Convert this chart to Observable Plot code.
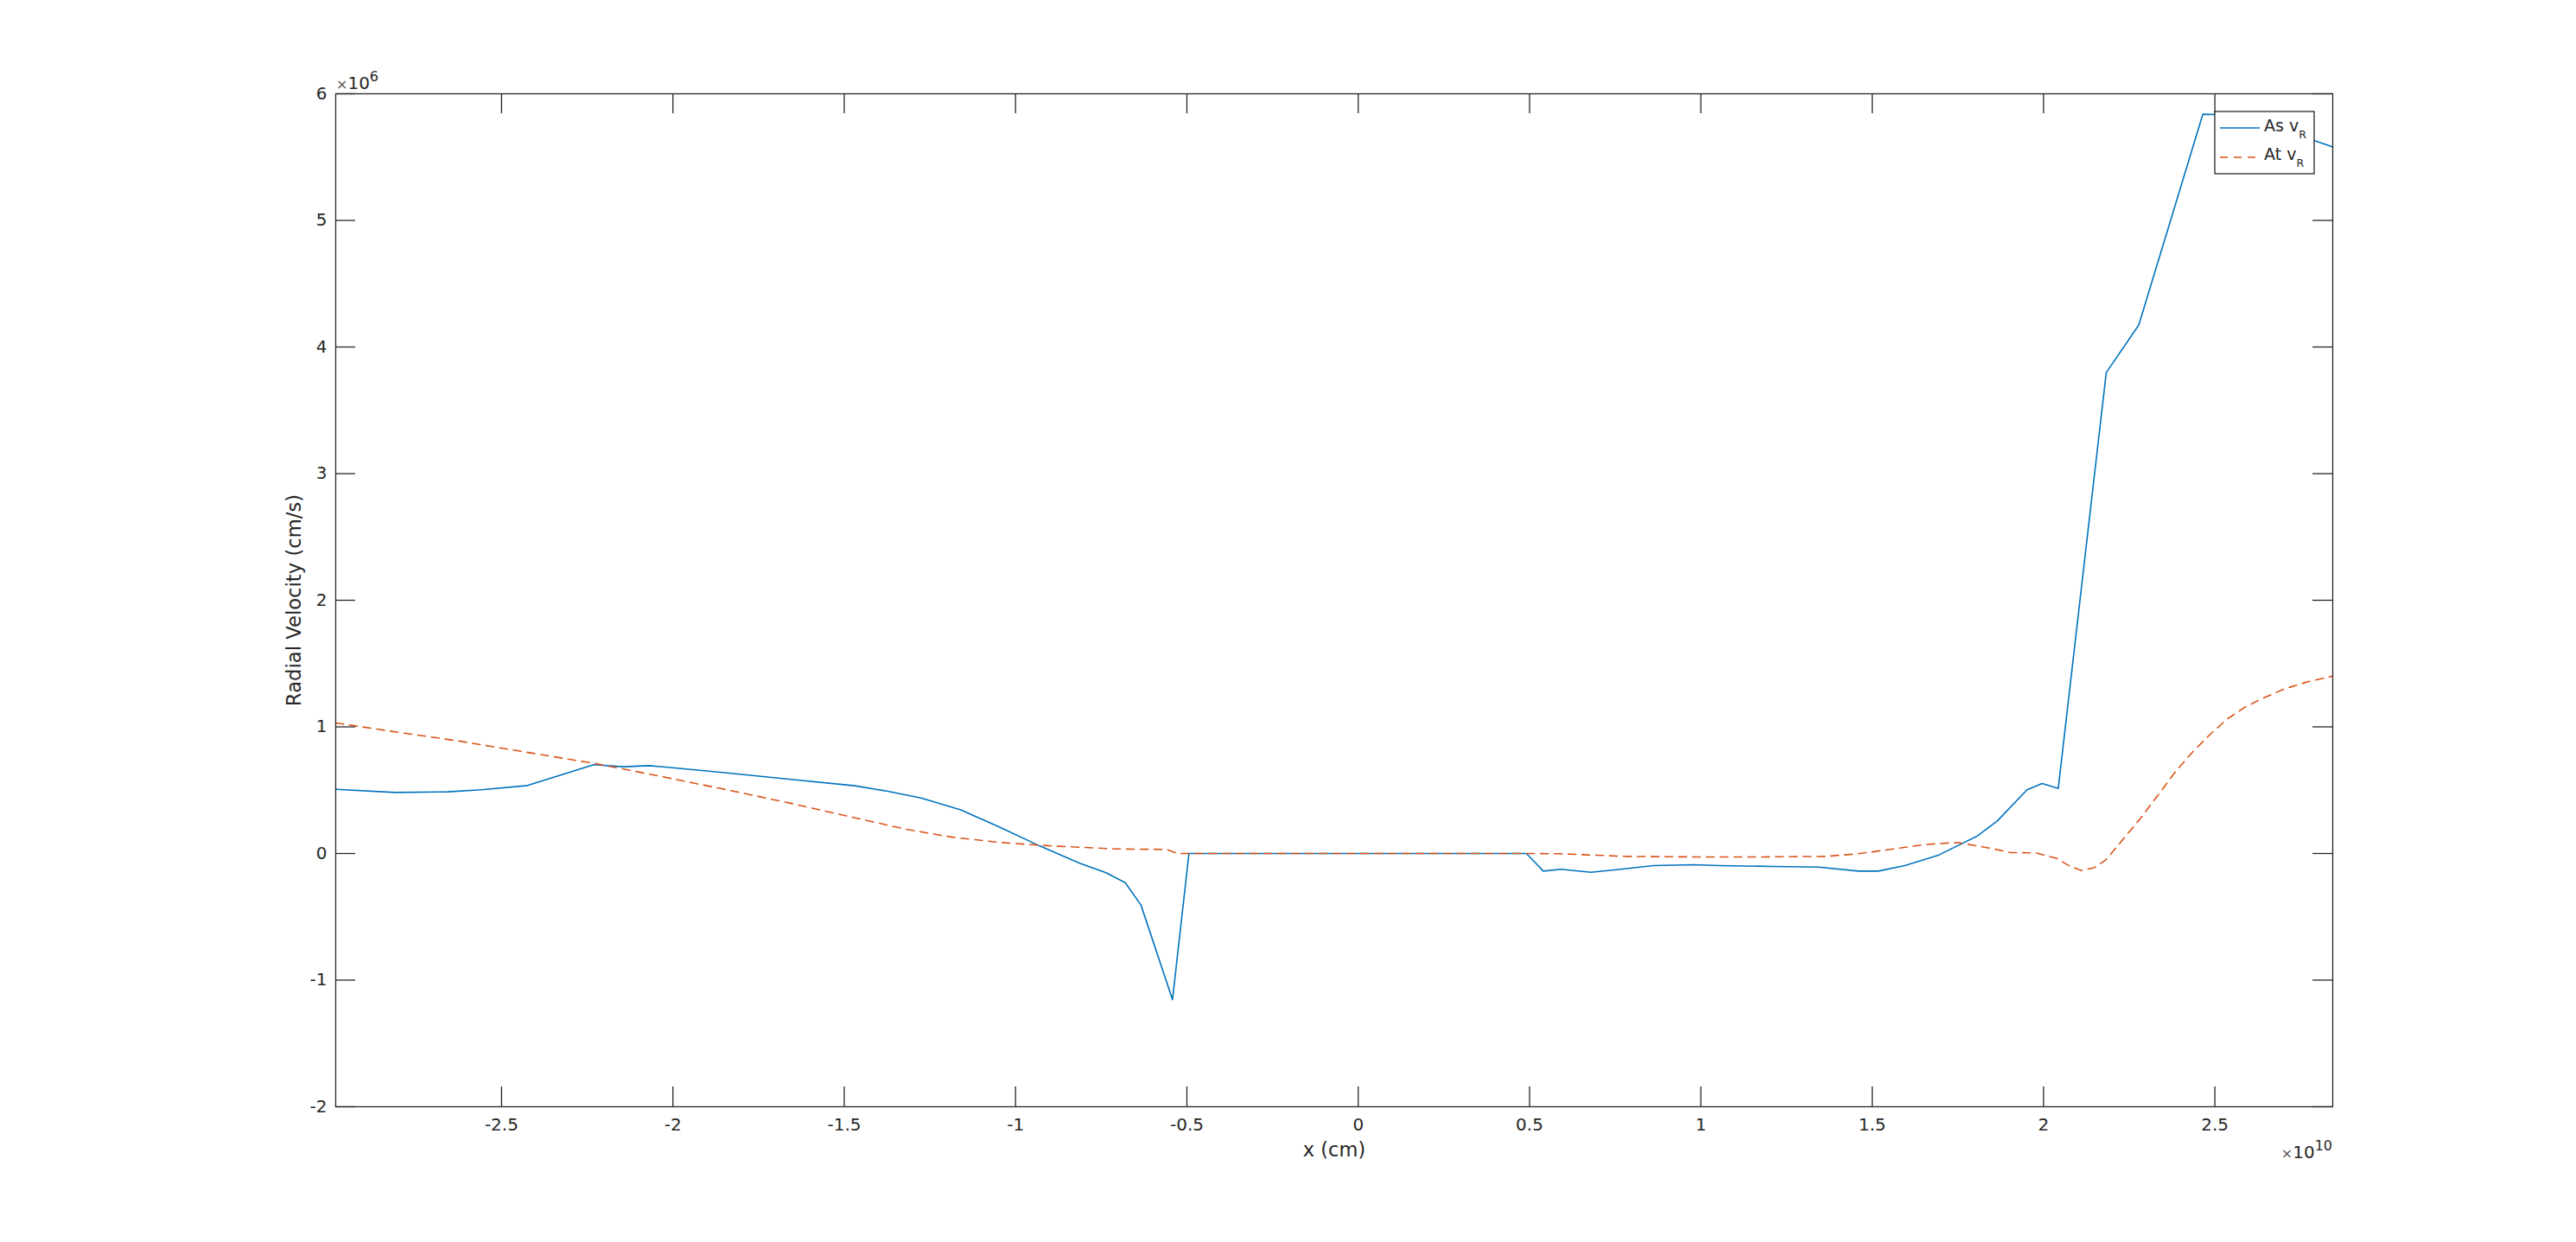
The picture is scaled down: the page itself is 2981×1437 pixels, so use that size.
<!DOCTYPE html>
<html>
<head>
<meta charset="utf-8">
<script src="https://cdn.jsdelivr.net/npm/d3@7"></script>
<script src="https://cdn.jsdelivr.net/npm/@observablehq/plot@0.6"></script>
<style>
  html, body { margin: 0; padding: 0; background: #fff; }
  #chart svg { display: block; }
</style>
</head>
<body>
<div id="chart"></div>
<script>
// x in units of 1e10 cm, velocity in units of 1e6 cm/s
const asX = [-2.984, -2.81, -2.656, -2.559, -2.424, -2.231, -2.145, -2.068, -1.855, -1.662, -1.469, -1.373, -1.276, -1.16, -1.045, -0.929, -0.813, -0.736, -0.68, -0.634, -0.542, -0.494, 0.491, 0.54, 0.592, 0.679, 0.765, 0.862, 0.978, 1.055, 1.209, 1.344, 1.46, 1.518, 1.595, 1.691, 1.807, 1.865, 1.952, 1.996, 2.043, 2.183, 2.278, 2.465, 2.501, 2.791, 2.844];
const asV = [0.507, 0.482, 0.487, 0.503, 0.537, 0.701, 0.685, 0.694, 0.64, 0.587, 0.535, 0.491, 0.439, 0.344, 0.207, 0.059, -0.077, -0.152, -0.23, -0.407, -1.154, 0.0, 0.0, -0.139, -0.125, -0.148, -0.125, -0.096, -0.089, -0.096, -0.102, -0.107, -0.139, -0.139, -0.096, -0.016, 0.139, 0.257, 0.503, 0.553, 0.514, 3.798, 4.174, 5.839, 5.836, 5.63, 5.581];

const atX = [-2.984, -2.82, -2.627, -2.434, -2.222, -2.048, -1.855, -1.662, -1.469, -1.315, -1.18, -1.045, -0.89, -0.706, -0.559, -0.533, -0.52, 0.491, 0.592, 0.669, 0.785, 0.978, 1.171, 1.363, 1.46, 1.556, 1.653, 1.749, 1.846, 1.904, 1.976, 2.039, 2.072, 2.11, 2.148, 2.182, 2.232, 2.282, 2.333, 2.383, 2.434, 2.484, 2.535, 2.585, 2.635, 2.702, 2.77, 2.844];
const atV = [1.031, 0.965, 0.889, 0.803, 0.708, 0.616, 0.51, 0.4, 0.282, 0.189, 0.127, 0.087, 0.059, 0.036, 0.032, 0.005, 0.0, 0.0, -0.002, -0.011, -0.023, -0.027, -0.027, -0.023, -0.002, 0.034, 0.071, 0.087, 0.041, 0.007, 0.005, -0.039, -0.093, -0.134, -0.112, -0.05, 0.112, 0.275, 0.457, 0.639, 0.799, 0.935, 1.06, 1.151, 1.22, 1.299, 1.356, 1.401];

const xTicks = [-2.5, -2, -1.5, -1, -0.5, 0, 0.5, 1, 1.5, 2, 2.5];
const yTicks = [-2, -1, 0, 1, 2, 3, 4, 5, 6];
const xDomain = [-2.984, 2.844];
const yDomain = [-2, 6];
const seriesNames = ["As", "At"];
const xLabel = "x (cm)";
const yLabel = "Radial Velocity (cm/s)";
const xExponent = "10";
const yExponent = "6";

const asData = asX.map((x, i) => ({x, v: asV[i]}));
const atData = atX.map((x, i) => ({x, v: atV[i]}));

const W = 2981, H = 1437;
const mL = 388, mR = 282, mT = 108, mB = 157;
const pW = W - mL - mR, pH = H - mT - mB;
const tickLen = 23;
const ink = "#262626";
const blue = "#0072BD", orange = "#D95319";
const lw = 1.6;

const svg = Plot.plot({
  width: W,
  height: H,
  marginLeft: mL,
  marginRight: mR,
  marginTop: mT,
  marginBottom: mB,
  style: {fontFamily: "DejaVu Sans", background: "#fff", color: ink},
  x: {domain: xDomain, ticks: xTicks},
  y: {domain: yDomain, ticks: yTicks},
  marks: [
    Plot.line(asData, {x: "x", y: "v", stroke: blue, strokeWidth: lw}),
    Plot.line(atData, {x: "x", y: "v", stroke: orange, strokeWidth: lw, strokeDasharray: "9,7"}),
    Plot.frame({stroke: ink, strokeWidth: 1.3}),
    Plot.tickX(xTicks, {x: d => d, insetTop: pH - tickLen, stroke: ink, strokeWidth: 1.3}),
    Plot.tickX(xTicks, {x: d => d, insetBottom: pH - tickLen, stroke: ink, strokeWidth: 1.3}),
    Plot.tickY(yTicks, {y: d => d, insetRight: pW - tickLen, stroke: ink, strokeWidth: 1.3}),
    Plot.tickY(yTicks, {y: d => d, insetLeft: pW - tickLen, stroke: ink, strokeWidth: 1.3}),
    Plot.axisX(xTicks, {tickSize: 0, tickPadding: 13, fontSize: 20, tickFormat: d => String(d), label: null, fill: ink}),
    Plot.axisY(yTicks, {tickSize: 0, tickPadding: 10, fontSize: 20, tickFormat: d => String(d), label: null, fill: ink}),
    Plot.text([xLabel], {frameAnchor: "bottom", textAnchor: "middle", dy: 57, lineAnchor: "bottom", fontSize: 22.5, fill: ink}),
    Plot.text([yLabel], {frameAnchor: "left", textAnchor: "middle", lineAnchor: "middle", dx: -48, rotate: -90, fontSize: 22.7, fill: ink})
  ]
});

const root = d3.select(svg);

// Exponent annotations (×10^n) with real superscripts
function exponentLabel(x, y, anchor, exp) {
  const t = root.append("text")
    .attr("x", x).attr("y", y)
    .attr("text-anchor", anchor)
    .attr("font-family", "DejaVu Sans")
    .attr("fill", ink);
  t.append("tspan").attr("font-size", 16).attr("fill", "#555").text("×");
  t.append("tspan").attr("font-size", 20).text("10");
  t.append("tspan").attr("font-size", 16).attr("dy", -9).text(exp);
}
exponentLabel(mL + 1, mT - 5, "start", yExponent);
exponentLabel(W - mR, H - mB + 60, "end", xExponent);

// Legend inside the top-right corner of the frame
const lg = root.append("g").attr("font-family", "DejaVu Sans").attr("fill", ink).attr("text-anchor", "start");
const bx = W - mR - 21 - 115, by = mT + 21, bw = 115, bh = 72;
lg.append("rect").attr("x", bx).attr("y", by).attr("width", bw).attr("height", bh)
  .attr("fill", "#fff").attr("stroke", ink).attr("stroke-width", 1.3);
const rows = [
  {name: seriesNames[0], color: blue, dash: null, yLine: by + 19, yText: by + 22.5},
  {name: seriesNames[1], color: orange, dash: "9,7", yLine: by + 53, yText: by + 55.5}
];
rows.forEach(r => {
  lg.append("line").attr("x1", bx + 6).attr("x2", bx + 52)
    .attr("y1", r.yLine).attr("y2", r.yLine)
    .attr("stroke", r.color).attr("stroke-width", lw)
    .attr("stroke-dasharray", r.dash);
  const t = lg.append("text").attr("x", bx + 57).attr("y", r.yText)
    .attr("font-size", 19).attr("text-anchor", "start");
  t.append("tspan").text(r.name + " v");
  t.append("tspan").attr("font-size", 12.5).attr("dy", 8.5).text("R");
});

document.getElementById("chart").appendChild(svg);
</script>
</body>
</html>
